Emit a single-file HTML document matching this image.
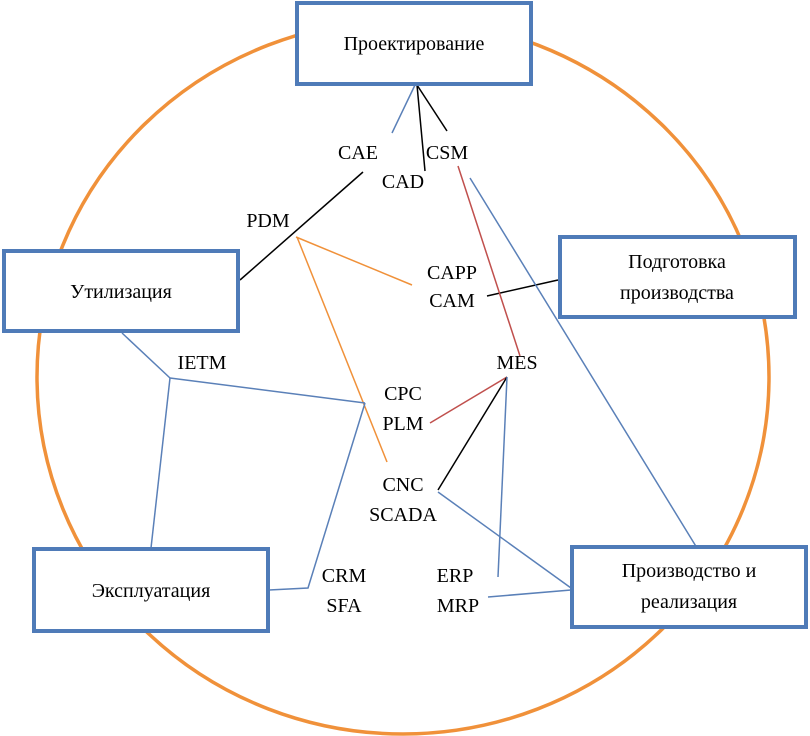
<!DOCTYPE html>
<html><head><meta charset="utf-8"><style>
html,body{margin:0;padding:0;background:#fff;}
svg{display:block;}
text{font-family:"Liberation Serif",serif;font-size:20px;fill:#000;}
</style></head><body>
<svg width="810" height="736" viewBox="0 0 810 736" xmlns="http://www.w3.org/2000/svg">
<ellipse cx="403" cy="377" rx="366" ry="357" fill="none" stroke="#f0913a" stroke-width="3.5"/>
<g stroke-width="1.5" fill="none">
<line x1="415" y1="85" x2="392" y2="133" stroke="#5a80b8"/>
<line x1="417" y1="85" x2="425" y2="171" stroke="#000"/>
<line x1="417" y1="85" x2="447" y2="131" stroke="#000"/>
<line x1="363" y1="172" x2="240" y2="280" stroke="#000"/>
<line x1="296" y1="237" x2="412" y2="285" stroke="#f0913a"/>
<line x1="297" y1="237" x2="387" y2="462" stroke="#f0913a"/>
<line x1="487" y1="296" x2="558" y2="280" stroke="#000"/>
<line x1="458" y1="166" x2="520" y2="356" stroke="#c0504d"/>
<line x1="470" y1="178" x2="697" y2="548" stroke="#5a80b8"/>
<line x1="122" y1="333" x2="170" y2="378" stroke="#5a80b8"/>
<line x1="170" y1="378" x2="365" y2="403" stroke="#5a80b8"/>
<line x1="170" y1="378" x2="151" y2="548" stroke="#5a80b8"/>
<polyline points="365,403 308,588 269,590" stroke="#5a80b8"/>
<line x1="507" y1="377" x2="430" y2="423" stroke="#c0504d"/>
<line x1="507" y1="377" x2="438" y2="490" stroke="#000"/>
<line x1="507" y1="377" x2="498" y2="577" stroke="#5a80b8"/>
<line x1="438" y1="492" x2="571" y2="588" stroke="#5a80b8"/>
<line x1="488" y1="597" x2="571" y2="590" stroke="#5a80b8"/>
</g>
<g fill="#fff" stroke="#4f7bb8" stroke-width="4">
<rect x="297" y="3" width="234" height="81"/>
<rect x="4" y="251" width="234" height="80"/>
<rect x="560" y="237" width="235" height="80"/>
<rect x="34" y="549" width="234" height="82"/>
<rect x="572" y="547" width="234" height="80"/>
</g>
<g text-anchor="middle">
<text x="414" y="50">Проектирование</text>
<text x="121" y="298">Утилизация</text>
<text x="677" y="268">Подготовка</text>
<text x="677" y="299">производства</text>
<text x="151" y="597">Эксплуатация</text>
<text x="689" y="577">Производство и</text>
<text x="689" y="608">реализация</text>
<text x="358" y="159">CAE</text>
<text x="447" y="159">CSM</text>
<text x="403" y="188">CAD</text>
<text x="268" y="227">PDM</text>
<text x="452" y="279">CAPP</text>
<text x="452" y="307">CAM</text>
<text x="202" y="369">IETM</text>
<text x="517" y="369">MES</text>
<text x="403" y="400">CPC</text>
<text x="403" y="430">PLM</text>
<text x="403" y="491">CNC</text>
<text x="403" y="521">SCADA</text>
<text x="344" y="582">CRM</text>
<text x="344" y="612">SFA</text>
<text x="455" y="582">ERP</text>
<text x="458" y="612">MRP</text>
</g>
</svg>
</body></html>
